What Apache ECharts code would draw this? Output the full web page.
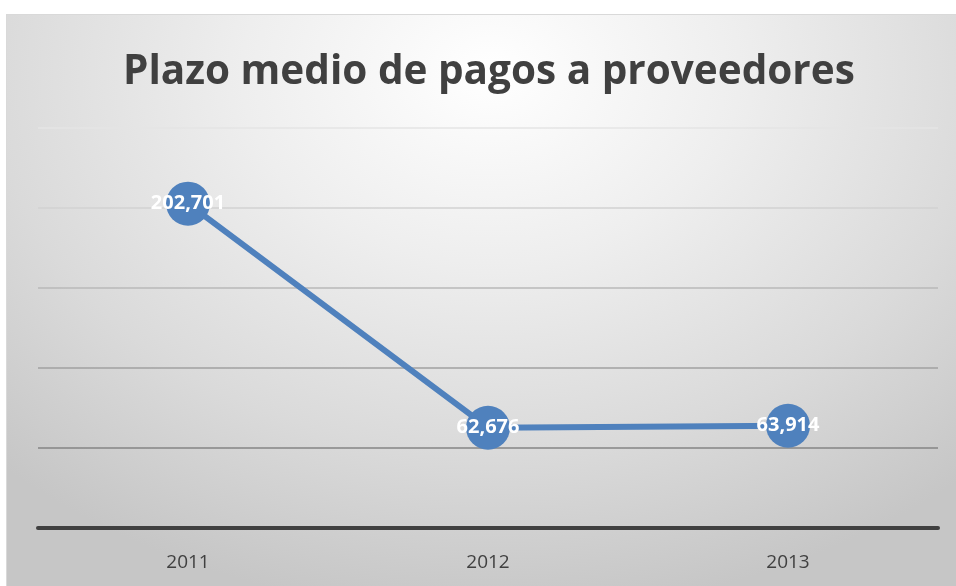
<!DOCTYPE html>
<html><head><meta charset="utf-8">
<script src="https://cdn.jsdelivr.net/npm/echarts@6/dist/echarts.min.js"></script>
<style>
html,body{margin:0;padding:0;background:#fff;}
#frame{position:absolute;left:6px;top:14px;width:950px;height:572px;box-sizing:border-box;border-left:1px solid #d9d9d9;border-top:1px solid #d9d9d9;
background:radial-gradient(ellipse 75% 95% at 51% 10%, #ffffff 0%, #eeeeee 35%, #dadada 70%, #c6c6c6 100%);}
#chart{position:absolute;left:0;top:0;width:956px;height:586px;}
</style></head>
<body>
<div id="frame"></div>
<div id="chart"></div>
<script>
const categories = ['2011', '2012', '2013'];
const values = [202.701, 62.676, 63.914];
const yTicks = [0, 50, 100, 150, 200, 250];
const titleText = 'Plazo medio de pagos a proveedores';

const chart = echarts.init(document.getElementById('chart'), null, {renderer: 'canvas'});
chart.setOption({
  backgroundColor: 'transparent',
  animation: false,
  title: {
    text: titleText, left: 118, top: 47,
    textStyle: {fontFamily: 'Open Sans', fontWeight: 'bold', fontSize: 40.5, color: '#404040'}
  },
  grid: {left: 38, right: 18, top: 128, bottom: 58},
  xAxis: {
    type: 'category', data: categories, boundaryGap: true,
    axisLine: {lineStyle: {color: '#404040', width: 4}},
    axisTick: {show: false},
    axisLabel: {color: '#404040', fontFamily: 'Open Sans', fontSize: 19, margin: 25}
  },
  yAxis: {
    type: 'value', min: yTicks[0], max: yTicks[yTicks.length - 1], interval: 50,
    axisLine: {show: false}, axisTick: {show: false}, axisLabel: {show: false},
    splitLine: {lineStyle: {color: ['#555555', '#858585', '#a0a0a0', '#b8b8b8', '#d2d2d2', '#e4e4e4'], width: 1.5}}
  },
  series: [{
    type: 'line', data: values,
    symbol: 'circle', symbolSize: 44,
    lineStyle: {color: '#4f81bd', width: 6},
    itemStyle: {color: '#4f81bd'},
    label: {
      show: true, position: 'inside', color: '#ffffff', fontWeight: 'bold',
      fontFamily: 'Open Sans', fontSize: 20,
      formatter: p => p.value.toFixed(3).replace('.', ',')
    }
  }]
});
</script>
</body></html>
